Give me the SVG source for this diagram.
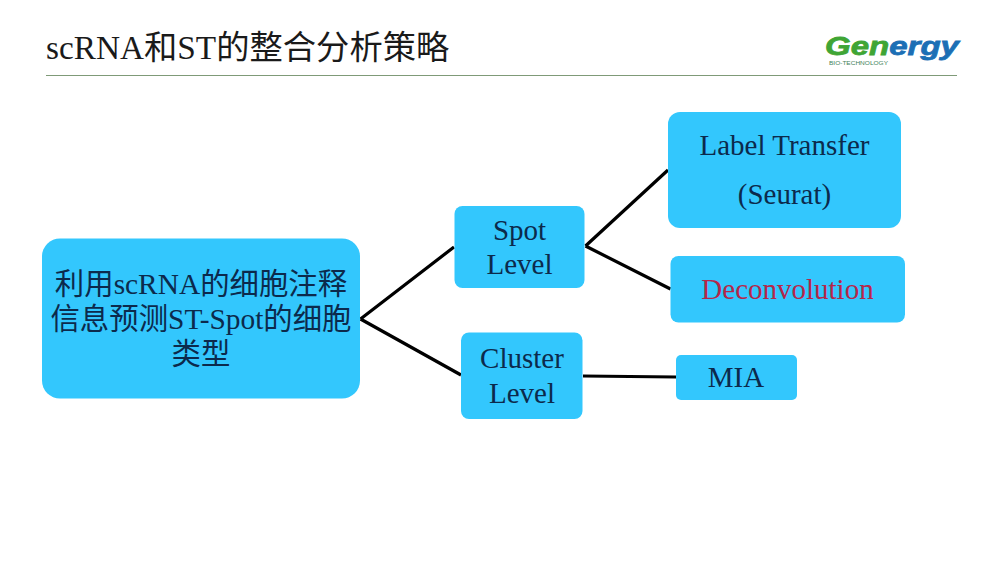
<svg xmlns="http://www.w3.org/2000/svg" width="1000" height="563" viewBox="0 0 1000 563">
<style>
text{font-family:"Liberation Serif","Noto Sans CJK SC",serif;text-anchor:middle}
.b{fill:#33c7fd}
.t{font-size:29px;fill:#0c2a4c}
.c{font-size:29.400px;fill:#0c2a4c}
.l{stroke:#000;stroke-width:3.2;fill:none}
</style>
<rect width="1000" height="563" fill="#fff"/>
<g id="header">
<text x="46" y="59" style="text-anchor:start;font-size:33.300px;fill:#1a1a1a">scRNA和ST的整合分析策略</text>
<line x1="46" y1="75.500" x2="957" y2="75.500" stroke="#7f9a78" stroke-width="1"/>
</g>
<g id="logo">
<text x="825" y="55" style="text-anchor:start;font-family:'Liberation Sans',sans-serif;font-weight:bold;font-style:italic;font-size:26.500px;fill:#3fa535;stroke:#3fa535;stroke-width:0.800" textLength="134" lengthAdjust="spacingAndGlyphs">Gen<tspan fill="#1c6fb5" stroke="#1c6fb5">ergy</tspan></text>
<text x="829" y="65" style="text-anchor:start;font-family:'Liberation Sans',sans-serif;font-size:4.600px;fill:#3f7f5a" textLength="59" lengthAdjust="spacingAndGlyphs">BIO-TECHNOLOGY</text>
</g>
<g id="connectors" class="l">
<path d="M360.500 319L454 247M360.500 319L461 375"/>
<path d="M585.500 246L668 170M585.500 246L670.500 289"/>
<path d="M583 376L676 377"/>
</g>
<g id="root">
<rect class="b" x="42" y="238.500" width="318" height="160" rx="18"/>
<text class="c" x="201" y="294">利用scRNA的细胞注释</text>
<text class="c" x="201" y="329">信息预测ST-Spot的细胞</text>
<text class="c" x="201" y="364">类型</text>
</g>
<g id="spot">
<rect class="b" x="454.500" y="206" width="130" height="82" rx="8"/>
<text class="t" x="519.500" y="240">Spot</text>
<text class="t" x="519.500" y="274">Level</text>
</g>
<g id="cluster">
<rect class="b" x="461" y="332.500" width="121.500" height="86.500" rx="8"/>
<text class="t" x="522" y="368">Cluster</text>
<text class="t" x="522" y="403">Level</text>
</g>
<g id="label-transfer">
<rect class="b" x="668" y="112" width="233" height="116" rx="12"/>
<text class="t" x="784.500" y="155">Label Transfer</text>
<text class="t" x="784.500" y="204">(Seurat)</text>
</g>
<g id="deconvolution">
<rect class="b" x="670.500" y="256" width="234.500" height="66.500" rx="8"/>
<text class="t" x="787.500" y="299" style="fill:#b5264a">Deconvolution</text>
</g>
<g id="mia">
<rect class="b" x="676" y="355" width="121" height="45" rx="5"/>
<text class="t" x="736" y="387">MIA</text>
</g>
</svg>
